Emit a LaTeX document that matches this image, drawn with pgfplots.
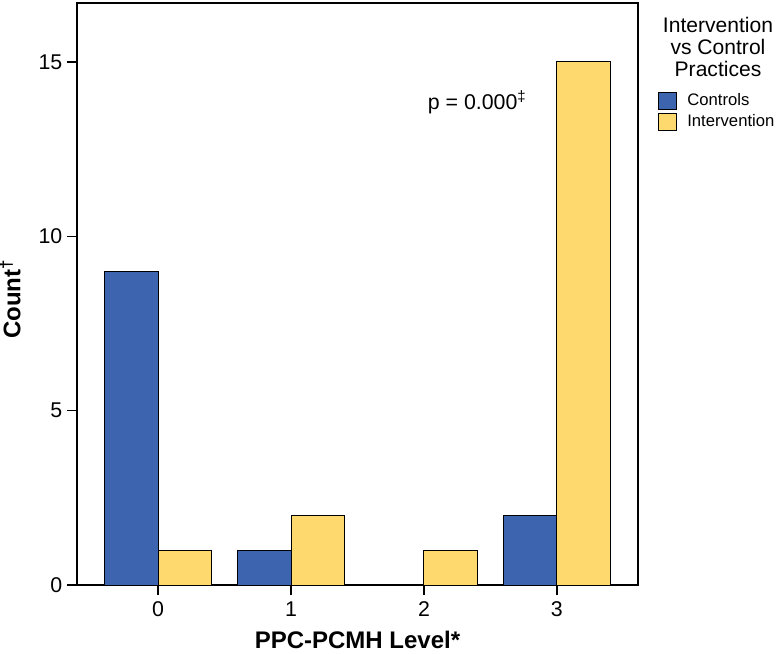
\documentclass[border=0pt]{standalone}
\usepackage{fontspec}
\setmainfont{Liberation Sans}
\usepackage{pgfplots}
\pgfplotsset{compat=1.18}
\definecolor{ctrlblue}{HTML}{3D64AF}
\definecolor{intyellow}{HTML}{FDD96E}
\begin{document}
\begin{tikzpicture}
\begin{axis}[
  scale only axis, width=420.75pt, height=436.5pt,
  clip=false,
  xmin=-0.61, xmax=3.61, ymin=0, ymax=16.69,
  xtick={0,1,2,3}, ytick={0,5,10,15},
  xtick pos=bottom, ytick pos=left, tick align=outside,
  major tick length=7.5pt,
  every tick/.style={black, line width=1pt},
  axis line style={line width=1.1pt},
  /pgf/number format/assume math mode=true,
  ticklabel style={font=\fontsize{16}{18}\selectfont},
  xticklabel style={inner sep=0pt, yshift=-5pt},
  xlabel={\textbf{PPC-PCMH Level*}},
  ylabel={\textbf{Count\textsuperscript{†}}},
  label style={font=\fontsize{18}{22}\selectfont},
  xlabel style={at={([yshift=-47.5pt]axis description cs:0.5,0)}, anchor=base, inner sep=0pt},
  ylabel style={at={([xshift=-42.5pt]axis description cs:0,0.491)}, anchor=base, inner sep=0pt},
  ybar=0pt, bar width=0.4,
  every axis plot post/.append style={
    legend image code/.code={\draw[##1] (0pt,-6.4pt) rectangle (13.5pt,6.4pt);}},
  legend style={at={(axis description cs:1.0357,0.848)}, anchor=north west,
    draw=none, inner sep=0pt, fill=none,
    font=\fontsize{12.5}{15}\selectfont,
    nodes={inner sep=1pt, text height=9pt, text depth=2.5pt},
    row sep=2.25pt},
  legend cell align=left,
  /tikz/every odd column/.append style={column sep=6.5pt},
]
\addplot[fill=ctrlblue, draw=black, line width=0.75pt, bar shift=-0.2]
  coordinates {(0,9) (1,1) (3,2)};
\addlegendentry{Controls}
\addplot[fill=intyellow, draw=black, line width=0.75pt, bar shift=0.2]
  coordinates {(0,1) (1,2) (2,1) (3,15)};
\addlegendentry{Intervention}
\node[font=\fontsize{16}{19}\selectfont] at (axis cs:2.40,13.85) {p = 0.000\textsuperscript{‡}};
\node[anchor=north, align=center, inner sep=0pt,
  font=\fontsize{15.8}{16.5}\selectfont]
  at (axis description cs:1.1426,0.976) {Intervention\\vs Control\\Practices};
\end{axis}
\pgfresetboundingbox
\path (-57.75pt,-51pt) rectangle (527.25pt,438.75pt);
\end{tikzpicture}
\end{document}
